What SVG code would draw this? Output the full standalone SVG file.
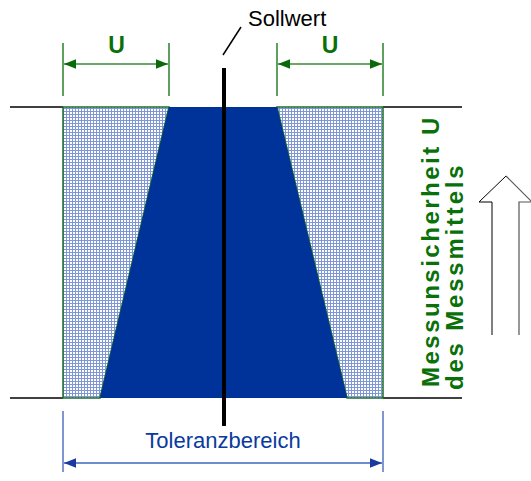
<svg xmlns="http://www.w3.org/2000/svg" width="531" height="481" viewBox="0 0 531 481">
<style>
.lbl{font-family:"Liberation Sans",Arial,sans-serif;}
.green{fill:#0a700a;font-weight:bold;}
.gtick{stroke:#2a802a;stroke-width:1.5;}
.gline{stroke:#6aa86a;stroke-width:2;}
.btick{stroke:#5573c0;stroke-width:1.5;}
.bline{stroke:#6f8cd0;stroke-width:2;}
.blk{stroke:#000;stroke-width:1.5;}
</style>
<defs>
<pattern id="grid" width="3" height="3" patternUnits="userSpaceOnUse">
<rect width="3" height="3" fill="#ffffff"/>
<rect x="0" y="0" width="3" height="1" fill="#7f97d6"/>
<rect x="0" y="0" width="1" height="3" fill="#7f97d6"/>
</pattern>
<marker id="ga" viewBox="0 0 10 10" refX="10" refY="5" markerWidth="6" markerHeight="6" markerUnits="strokeWidth" orient="auto-start-reverse">
<path d="M0,1 L10,5 L0,9 Z" fill="#0a6a0a"/>
</marker>
<marker id="ba" viewBox="0 0 10 10" refX="10" refY="5" markerWidth="6" markerHeight="6" markerUnits="strokeWidth" orient="auto-start-reverse">
<path d="M0,1 L10,5 L0,9 Z" fill="#1a3a9e"/>
</marker>
</defs>

<g id="band">
<line class="blk" x1="10" y1="107" x2="63" y2="107"/>
<line class="blk" x1="383" y1="107" x2="462" y2="107"/>
<line class="blk" x1="10" y1="398" x2="63" y2="398"/>
<line class="blk" x1="383" y1="398" x2="462" y2="398"/>
<polygon points="63,107 169,107 100,398 63,398" fill="url(#grid)" stroke="#1d6e2a" stroke-width="1.5"/>
<polygon points="277,107 383,107 383,398 347,398" fill="url(#grid)" stroke="#1d6e2a" stroke-width="1.5"/>
<polygon points="169,107 277,107 347,398 100,398" fill="#003399"/>
</g>

<g id="sollwert">
<line x1="224" y1="68" x2="224" y2="426" stroke="#000" stroke-width="4"/>
<line x1="223" y1="55" x2="241" y2="27" stroke="#000" stroke-width="1.5"/>
<text class="lbl" x="248" y="26" font-size="22" fill="#000">Sollwert</text>
</g>

<g id="connectors">
<line class="gtick" x1="63" y1="43" x2="63" y2="96"/>
<line class="gtick" x1="169" y1="43" x2="169" y2="96"/>
<line class="gline" x1="64" y1="64" x2="168" y2="64" marker-start="url(#ga)" marker-end="url(#ga)"/>
<line class="gtick" x1="277" y1="43" x2="277" y2="96"/>
<line class="gtick" x1="383" y1="43" x2="383" y2="96"/>
<line class="gline" x1="278" y1="64" x2="382" y2="64" marker-start="url(#ga)" marker-end="url(#ga)"/>
<line class="btick" x1="63" y1="411" x2="63" y2="472"/>
<line class="btick" x1="383" y1="411" x2="383" y2="472"/>
<line class="bline" x1="64" y1="463" x2="382" y2="463" marker-start="url(#ba)" marker-end="url(#ba)"/>
</g>

<g id="u-left"><text class="lbl green" x="116.5" y="53" font-size="23" text-anchor="middle">U</text></g>
<g id="u-right"><text class="lbl green" x="330" y="53" font-size="23" text-anchor="middle">U</text></g>
<g id="toleranz"><text class="lbl" x="223" y="448" font-size="22" fill="#0a3a9e" text-anchor="middle">Toleranzbereich</text></g>

<g id="side-label">
<text class="lbl green" transform="translate(439,387) rotate(-90)" font-size="24" letter-spacing="2.5">Messunsicherheit U</text>
<text class="lbl green" transform="translate(463,390) rotate(-90)" font-size="24" letter-spacing="2.8">des Messmittels</text>
</g>

<g id="up-arrow">
<polygon points="492,335 492,202 479,202 506,176 532,202 519,202 519,335" fill="#fff" stroke="none"/>
<polyline points="492,335 492,202 479,202 506,176" fill="none" stroke="#000" stroke-width="1"/>
<polyline points="506,176 532,202 519,202 519,335" fill="none" stroke="#555" stroke-width="1.2"/>
</g>
</svg>
